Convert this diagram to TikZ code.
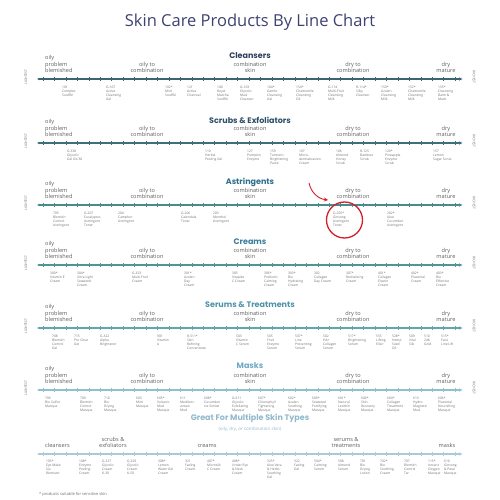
\documentclass[tikz,border=0pt]{standalone}
\usepackage{fontspec}
\setmainfont{Open Sans}
\newfontfamily\headfont{Poppins}
\usetikzlibrary{arrows.meta}

\definecolor{titleblue}{HTML}{3D4271}
\definecolor{txtgray}{HTML}{6E6E6E}
\definecolor{catgray}{HTML}{5E5E5E}
\definecolor{markred}{HTML}{D0202A}
\definecolor{lineA}{HTML}{3B6670}
\definecolor{lineB}{HTML}{3F7079}
\definecolor{lineC}{HTML}{488B8D}
\definecolor{lineD}{HTML}{509496}
\definecolor{lineE}{HTML}{62A6AC}
\definecolor{lineF}{HTML}{8EC1CD}
\definecolor{lineG}{HTML}{AACCD7}
\definecolor{headA}{HTML}{2F3E5C}
\definecolor{headB}{HTML}{2C4F68}
\definecolor{headC}{HTML}{2D6F8A}
\definecolor{headD}{HTML}{3A7F99}
\definecolor{headE}{HTML}{4E93A8}
\definecolor{headF}{HTML}{70A8C5}
\definecolor{headG}{HTML}{8FB9CC}

\tikzset{
  prod/.style={anchor=north west, align=left, inner sep=0pt, text=txtgray,
    font=\fontsize{3.3}{4}\selectfont},
  cat/.style={anchor=south, align=center, inner sep=0pt, text=catgray,
    font=\fontsize{5.6}{6.5}\selectfont},
  catleft/.style={cat, anchor=south west, align=left},
  head/.style={inner sep=0pt, font=\headfont\bfseries\fontsize{8}{9}\selectfont},
  sidelabel/.style={inner sep=0pt, text=txtgray, font=\fontsize{3.4}{4}\selectfont},
  axisline/.style={line width=1.1pt, {Latex[length=2.5pt,width=2.5pt]}-{Latex[length=4pt,width=3.5pt]}},
}

% axis with ticks: name, y, colour
\newcommand{\skinaxis}[3]{%
  \coordinate (#1-l) at (37,#2);
  \coordinate (#1-r) at (463,#2);
  \draw[axisline, #3] (#1-l) -- (#1-r);
  \foreach \t in {0,...,36}
    \draw[#3, line width=0.6pt] (43+\t*11.45,#2-2) -- ++(0,4);
}
% skin type labels above the axis: name, y
\newcommand{\skincats}[2]{%
  \node[catleft] (#1-oily) at (45,#2-6) {oily\\problem\\blemished};
  \node[cat] (#1-oc) at (147,#2-6) {oily to\\combination};
  \node[cat] (#1-comb) at (250,#2-6) {combination\\skin};
  \node[cat] (#1-dc) at (353,#2-6) {dry to\\combination};
  \node[cat] (#1-dry) at (446,#2-6) {dry\\mature};
  \node[sidelabel, rotate=90] (#1-light) at (26,#2-2) {LIGHTEST};
  \node[sidelabel, rotate=-90] (#1-rich) at (474,#2-2) {RICHEST};
}

\begin{document}
\begin{tikzpicture}[x=1pt, y=-1pt]
  \useasboundingbox (0,0) rectangle (500,500);

  \node[text=titleblue, font=\fontsize{16.5}{18}\selectfont] (title) at (250,22) {Skin Care Products By Line Chart};

  % Cleansers
  \node[head, text=headA] (h-cl) at (250,56) {Cleansers};
  \skincats{cl}{79}
  \skinaxis{cl}{79}{lineA}
  \foreach \px/\txt [count=\i] in {62/{101\\Complex\\Soufflé}, 106/{G-107\\Active\\Cleansing\\Gel},
      165/{102*\\Mint\\Soufflé}, 187/{121\\Active\\Charcoal}, 217/{100\\Royal\\Matcha\\Soufflé},
      240/{G-103\\Glycolic\\Mud\\Cleanser}, 267/{104*\\Gentle\\Cleansing\\Gel},
      296/{154*\\Chamomile\\Cleansing\\Oil}, 328/{G-114\\Multi-Fruit\\Cleansing\\Milk},
      356/{R-114*\\Silky\\Cleanser}, 381/{150*\\Azulen\\Cleansing\\Milk},
      408/{152*\\Chamomile\\Cleansing\\Milk}, 438/{155*\\Cleansing\\Balm \&\\Mask}}
    \node[prod] (cl-\i) at (\px,86) {\txt};

  % Scrubs & Exfoliators
  \node[head, text=headB] (h-sc) at (250,120) {Scrubs \& Exfoliators};
  \skincats{sc}{143}
  \skinaxis{sc}{143}{lineB}
  \foreach \px/\txt [count=\i] in {67/{G-330\\Glycolic\\Gel GX-30}, 205/{110\\Herbal\\Peeling Gel},
      247/{127\\Pumpkin\\Enzyme}, 270/{159\\Turmeric\\Brightening\\Paste},
      299/{107\\Micro-\\dermabrasion\\Cream}, 336/{106\\Almond\\Honey\\Scrub},
      360/{R-125\\Bamboo\\Scrub}, 385/{120*\\Pineapple\\Enzyme\\Scrub}, 433/{157\\Lemon\\Sugar Scrub}}
    \node[prod] (sc-\i) at (\px,150) {\txt};

  % Astringents
  \node[head, text=headC] (h-as) at (250,182) {Astringents};
  \skincats{as}{205}
  \skinaxis{as}{205}{lineC}
  \foreach \px/\txt [count=\i] in {53/{705\\Blemish\\Control\\Astringent},
      84/{G-207\\Eucalyptus\\Astringent\\Toner}, 118/{204\\Camphor\\Astringent},
      181/{G-206\\Calendula\\Toner}, 213/{203\\Menthol\\Astringent},
      333/{G-205*\\Ginseng\\Astringent\\Toner}, 387/{202*\\Aloe\\Cucumber\\Astringent}}
    \node[prod] (as-\i) at (\px,212) {\txt};

  % highlighted product
  \node[draw=markred, line width=1.3pt, circle, minimum size=36pt, inner sep=0pt] (mark) at (344.5,220) {};
  \coordinate (arrowtail) at (309,183);
  \coordinate (arrowtip) at (328,200);
  \draw[markred, line width=0.9pt, -{Stealth[length=4pt,width=4pt]}] (arrowtail) to[bend right=35] (arrowtip);

  % Creams
  \node[head, text=headD] (h-cr) at (250,242) {Creams};
  \skincats{cr}{265}
  \skinaxis{cr}{265}{lineD}
  \foreach \px/\txt [count=\i] in {50/{300*\\Vitamin E\\Cream}, 77/{304*\\Ultra Light\\Seaweed\\Cream},
      132/{G-323\\Multi-Fruit\\Cream}, 184/{301*\\Azulen\\Day\\Cream}, 232/{305\\Vitaplex\\C Cream},
      264/{306*\\Probiotic\\Calming\\Cream}, 288/{303*\\Bio\\Hydrating\\Cream},
      314/{302\\Collagen\\Day Cream}, 346/{307*\\Revitalizing\\Cream},
      378/{401*\\Collagen\\Elastin\\Cream}, 411/{402*\\Placental\\Cream}, 436/{403*\\Bio\\Effective\\Cream}}
    \node[prod] (cr-\i) at (\px,272) {\txt};

  % Serums & Treatments
  \node[head, text=headE] (h-se) at (250,305) {Serums \& Treatments};
  \skincats{se}{328}
  \skinaxis{se}{328}{lineE}
  \foreach \px/\txt [count=\i] in {52/{708\\Blemish\\Control\\Gel}, 74/{715\\Pro Clear\\Gel},
      100/{G-322\\Alpha\\Brightener}, 157/{901\\Vitamin\\A}, 187/{R-511*\\Skin\\Refining\\Concentrate},
      236/{503\\Vitamin\\C Serum}, 267/{505\\Fruit\\Enzyme\\Serum}, 295/{507*\\Line\\Preventing\\Serum},
      323/{502\\HA+\\Collagen\\Serum}, 348/{517*\\Brightening\\Serum}, 376/{555\\Lifting\\Elixir},
      392/{528*\\Hemp\\Seed\\Oil}, 409/{509\\Vital\\Silk}, 424/{510\\24K\\Gold}, 441/{515*\\Face\\Line Lift}}
    \node[prod] (se-\i) at (\px,335) {\txt};

  % Masks
  \node[head, text=headF] (h-ma) at (250,366) {Masks};
  \skincats{ma}{390}
  \skinaxis{ma}{390}{lineF}
  \foreach \px/\txt [count=\i] in {45/{706\\Bio Sulfur\\Masque}, 80/{709\\Blemish\\Control\\Masque},
      104/{710\\Bio\\Drying\\Masque}, 136/{603\\Mint\\Masque}, 157/{605*\\Volcanic\\Mud\\Masque},
      180/{611\\Mediterr-\\anean\\Mud}, 204/{608*\\Cucumber\\Ice Sorbet},
      232/{G-611\\Glycolic\\Exfoliating\\Masque}, 258/{607*\\Chlorophyll\\Tightening\\Masque},
      288/{602*\\Azulen\\Soothing\\Masque}, 312/{609*\\Seaweed\\Fortifying\\Masque},
      338/{601*\\Natural\\Lecithin\\Masque}, 361/{600*\\Skin\\Recovery\\Masque},
      387/{604*\\Collagen\\Treatment\\Masque}, 413/{613\\Hydro\\Magnetic\\Mud},
      438/{606*\\Placental\\Nourishing\\Masque}}
    \node[prod] (ma-\i) at (\px,397) {\txt};

  % Great for multiple skin types
  \node[head, text=headG] (h-mu) at (250,418) {Great For Multiple Skin Types};
  \node[text=headG, inner sep=0pt, font=\fontsize{4.5}{5}\selectfont] (h-mu-sub) at (250,429) {(oily, dry, or combination skin)};
  \node[catleft] (mu-cl) at (45,448) {cleansers};
  \node[cat] (mu-sc) at (113,448) {scrubs \&\\exfoliators};
  \node[cat] (mu-cr) at (207,448) {creams};
  \node[cat] (mu-se) at (346,448) {serums \&\\treatments};
  \node[cat] (mu-ma) at (447,448) {masks};
  \skinaxis{mu}{454}{lineG}
  \foreach \px/\txt [count=\i] in {46/{105*\\Eye Make\\Up\\Remover}, 79/{108*\\Enzyme\\Peeling\\Cream},
      102/{G-327\\Glycolic\\Cream\\K-30}, 127/{G-329\\Glycolic\\Cream\\K-50},
      158/{308*\\Lemon\\Water Gel\\Cream}, 185/{321\\Fading\\Cream}, 207/{407*\\Microsilk\\C Cream},
      232/{408*\\Under Eye\\\& Neck\\Cream}, 267/{325*\\Aloe Vera\\\& Herbs\\Soothing\\Gel},
      294/{322\\Fading\\Gel}, 314/{504*\\Calming\\Serum}, 338/{508\\Almond\\Serum},
      360/{701\\Bio\\Drying\\Lotion}, 380/{702*\\Bio\\Soothing\\Cream}, 404/{707\\Blemish\\Control\\Tar},
      428/{115*\\Instant\\Oxygen\\Masque}, 444/{610\\Ginseng\\\& Petal\\Masque}}
    \node[prod] (mu-\i) at (\px,460) {\txt};

  % footnote
  \node[anchor=west, inner sep=0pt, text=txtgray, font=\fontsize{4}{5}\selectfont] (note) at (39,494) {* products suitable for sensitive skin};

\end{tikzpicture}
\end{document}
